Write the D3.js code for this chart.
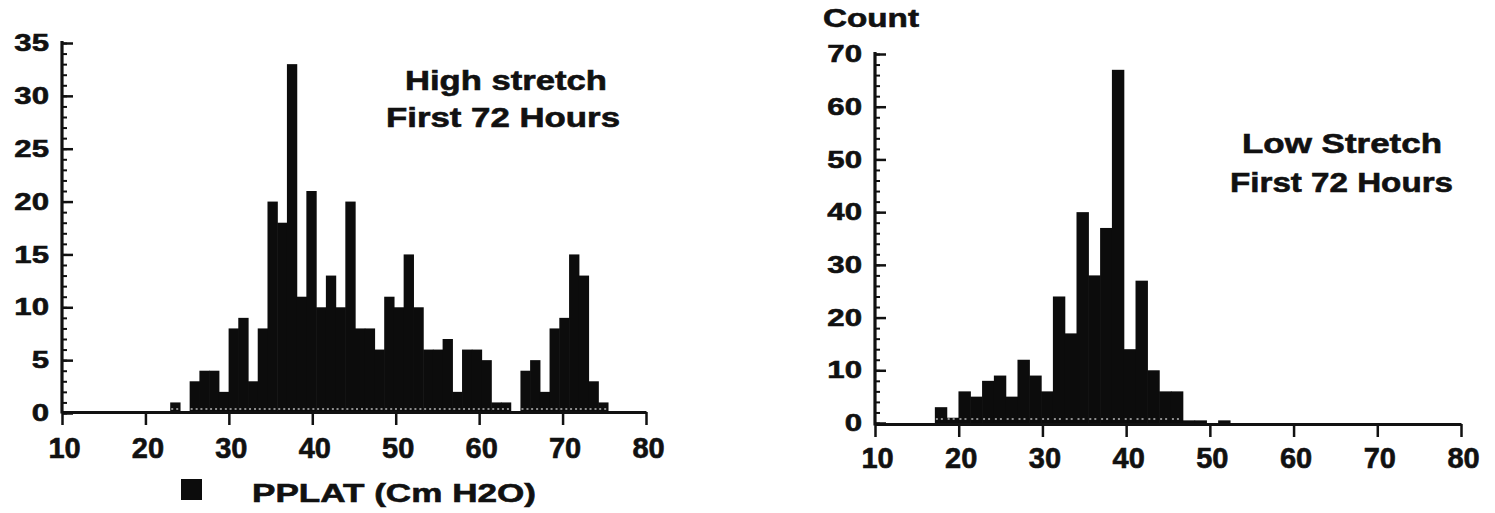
<!DOCTYPE html>
<html>
<head>
<meta charset="utf-8">
<script src="https://cdn.jsdelivr.net/npm/d3@7"></script>
<style>
  body { margin: 0; background: #fff; }
  svg text { font-family: "Liberation Sans", Arial, sans-serif; font-weight: bold; fill: #111; stroke: #111; stroke-width: 0.6px; }
</style>
</head>
<body>
<svg id="chart" width="1495" height="513"></svg>
<script>
// left panel: high stretch, bins about 1.17 wide
let highBins = [22.97, 24.14, 25.30, 26.47, 27.63, 28.80, 29.97, 31.13, 32.30, 33.46,
  34.63, 35.80, 36.96, 38.13, 39.29, 40.46, 41.63, 42.79, 43.96, 45.12,
  46.29, 47.46, 48.62, 49.79, 50.95, 52.12, 53.29, 54.45, 55.62, 56.78,
  57.95, 59.12, 60.28, 61.45, 62.61, 63.78, 64.95, 66.11, 67.28, 68.44,
  69.61, 70.78, 71.94, 73.11, 74.27]
let highCounts = [1, 0, 3, 4, 4, 2, 8, 9, 3, 8,
  20, 18, 33, 11, 21, 10, 13, 10, 20, 8,
  8, 6, 11, 10, 15, 10, 6, 6, 7, 2,
  6, 6, 5, 1, 1, 0, 4, 5, 2, 8,
  9, 15, 13, 3, 1]
let highWidth = 1.166

// right panel: low stretch, bins about 1.41 wide
let lowBins = [17.15, 18.56, 19.97, 21.38, 22.79, 24.20, 25.61, 27.02, 28.43, 29.84,
  31.25, 32.66, 34.07, 35.48, 36.89, 38.30, 39.71, 41.12, 42.53, 43.94,
  45.35, 46.76, 48.17, 49.58, 50.99]
let lowCounts = [3, 1, 6, 5, 8, 9, 5, 12, 9, 6,
  24, 17, 40, 28, 37, 67, 14, 27, 10, 6,
  6, 0.5, 0.5, 0, 0.5]
let lowWidth = 1.41

let xTicks = [10, 20, 30, 40, 50, 60, 70, 80]
let highYTicks = [0, 5, 10, 15, 20, 25, 30, 35]
let lowYTicks = [0, 10, 20, 30, 40, 50, 60, 70]

let svg = d3.select('#chart')

function drawPanel(p) {
  let g = svg.append('g')
  let x = d3.scaleLinear().domain([10, 80]).range(p.xRange)
  let y = d3.scaleLinear().domain(p.yDomain).range(p.yRange)

  let bars = p.bins.map((b, i) => ({ x0: b, x1: b + p.width, n: p.counts[i] }))
    .filter(d => d.n > 0)

  g.selectAll('rect.bar')
    .data(bars)
    .enter()
    .append('rect')
    .attr('class', 'bar')
    .attr('x', d => x(d.x0))
    .attr('width', d => x(d.x1) - x(d.x0) + 0.6)
    .attr('y', d => y(d.n))
    .attr('height', d => y(0) - y(d.n))
    .attr('fill', '#0c0c0c')

  // the scan shows a speckled light row near the bottom of the bars
  g.selectAll('line.speck')
    .data(bars.filter(d => d.n >= 1))
    .enter()
    .append('line')
    .attr('x1', d => x(d.x0) + 1)
    .attr('x2', d => x(d.x1) - 1)
    .attr('y1', y(0) - 4)
    .attr('y2', y(0) - 4)
    .attr('stroke', '#fff')
    .attr('stroke-width', 1.3)
    .attr('stroke-dasharray', '2 3')
    .attr('opacity', 0.7)

  // x axis
  let xAxis = d3.axisBottom(x)
    .tickValues(xTicks)
    .tickSize(13)
    .tickSizeOuter(0)
    .tickPadding(p.xPad)
  let ax = g.append('g')
    .attr('transform', `translate(0, ${p.axisY})`)
    .call(xAxis)
  ax.select('.domain').attr('stroke', '#111').attr('stroke-width', 3.2)
  ax.selectAll('.tick line').attr('stroke', '#111').attr('stroke-width', 2.5)
  ax.selectAll('.tick text')
    .style('font-size', '29px')
    .attr('dx', 2)

  // y axis, minor ticks first
  let minor = d3.axisLeft(y)
    .tickValues(p.minorTicks)
    .tickSize(-5)
    .tickFormat('')
  let my = g.append('g')
    .attr('transform', `translate(${p.xRange[0]}, 0)`)
    .call(minor)
  my.select('.domain').remove()
  my.selectAll('.tick line').attr('stroke', '#111').attr('stroke-width', 2)

  let yAxis = d3.axisLeft(y)
    .tickValues(p.yTicks)
    .tickSize(-11)
    .tickSizeOuter(0)
    .tickPadding(13)
  let ay = g.append('g')
    .attr('transform', `translate(${p.xRange[0]}, 0)`)
    .call(yAxis)
  ay.select('.domain').remove()
  ay.selectAll('.tick line').attr('stroke', '#111').attr('stroke-width', 2.5)
  ay.selectAll('.tick text')
    .style('font-size', '24px')
    .attr('x', -13 / 1.3)
    .attr('transform', 'scale(1.3,1)')

  g.append('line')
    .attr('x1', p.xRange[0])
    .attr('x2', p.xRange[0])
    .attr('y1', p.axisY + 1.5)
    .attr('y2', p.axisTop)
    .attr('stroke', '#111')
    .attr('stroke-width', 3.2)

  p.titles.forEach(t => {
    g.append('text')
      .attr('x', t.x)
      .attr('y', t.y)
      .attr('textLength', t.len)
      .attr('lengthAdjust', 'spacingAndGlyphs')
      .style('font-size', '27px')
      .text(t.text)
  })
}

drawPanel({
  bins: highBins, counts: highCounts, width: highWidth,
  xRange: [62, 646], yDomain: [0, 35], yRange: [413, 43],
  axisY: 412, axisTop: 41, xPad: 12,
  yTicks: highYTicks, minorTicks: d3.range(0, 36, 1),
  titles: [
    { text: 'High stretch', x: 405, y: 90, len: 202 },
    { text: 'First 72 Hours', x: 386, y: 127, len: 234 }
  ]
})

drawPanel({
  bins: lowBins, counts: lowCounts, width: lowWidth,
  xRange: [875, 1461], yDomain: [0, 70], yRange: [423, 54],
  axisY: 424, axisTop: 52, xPad: 10,
  yTicks: lowYTicks, minorTicks: d3.range(0, 71, 2),
  titles: [
    { text: 'Low Stretch', x: 1242, y: 153, len: 200 },
    { text: 'First 72 Hours', x: 1230, y: 192, len: 223 }
  ]
})

// y axis name on the right panel
svg.append('text')
  .attr('x', 823)
  .attr('y', 27)
  .attr('textLength', 96)
  .attr('lengthAdjust', 'spacingAndGlyphs')
  .style('font-size', '26px')
  .text('Count')

// legend under the left panel
svg.append('rect')
  .attr('x', 181)
  .attr('y', 479)
  .attr('width', 21)
  .attr('height', 21)
  .attr('fill', '#0c0c0c')

svg.append('text')
  .attr('x', 252)
  .attr('y', 502)
  .attr('textLength', 284)
  .attr('lengthAdjust', 'spacingAndGlyphs')
  .style('font-size', '26px')
  .text('PPLAT (Cm H2O)')
</script>
</body>
</html>
